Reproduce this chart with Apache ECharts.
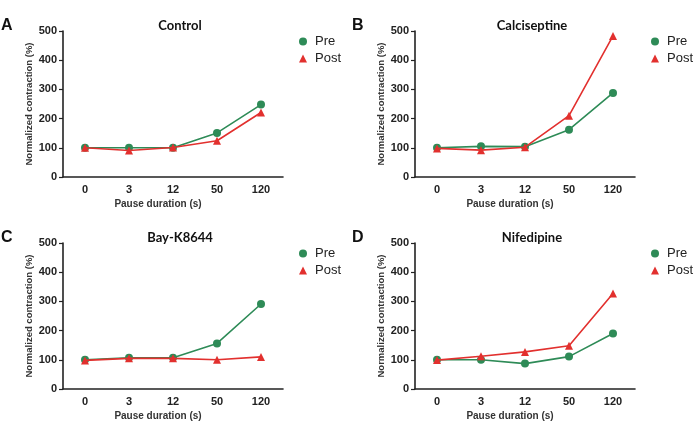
<!DOCTYPE html>
<html>
<head>
<meta charset="utf-8">
<script src="https://cdn.jsdelivr.net/npm/echarts@6/dist/echarts.min.js"></script>
<style>
  html, body { margin: 0; padding: 0; background: #fff; }
  #chart { width: 697px; height: 443px; }
</style>
</head>
<body>
<div id="chart"></div>
<script>
// pause durations (s)
const categories = ['0', '3', '12', '50', '120']
const yTicks = [0, 100, 200, 300, 400, 500]

const panelLetters = ['A', 'B', 'C', 'D']
const panelTitles = ['Control', 'Calciseptine', 'Bay-K8644', 'Nifedipine']

// normalized contraction (%)
const controlPre = [100, 100, 100, 151, 248]
const controlPost = [100, 91, 101, 124, 221]
const calciPre = [100, 105, 104, 162, 288]
const calciPost = [98, 92, 102, 210, 483]
const bayPre = [100, 107, 107, 156, 291]
const bayPost = [98, 105, 105, 100, 110]
const nifePre = [100, 100, 87, 111, 190]
const nifePost = [99, 112, 127, 148, 327]

const preData = [controlPre, calciPre, bayPre, nifePre]
const postData = [controlPost, calciPost, bayPost, nifePost]

const GREEN = '#2e8b57'
const RED = '#e2302e'
const INK = '#222'

// grid boxes: left, top
const boxes = [
  [63, 31],
  [415, 31],
  [63, 243],
  [415, 243]
]
const W = 220
const H = 146

const grids = []
const xAxes = []
const yAxes = []
const series = []
const legends = []
const graphics = []

boxes.forEach((b, i) => {
  grids.push({ left: b[0], top: b[1], width: W, height: H })
  xAxes.push({
    gridIndex: i,
    type: 'category',
    data: categories,
    boundaryGap: true,
    name: 'Pause duration (s)',
    nameLocation: 'middle',
    nameGap: 22,
    nameTextStyle: {
      fontFamily: 'Liberation Sans',
      fontWeight: 'bold',
      fontSize: 10,
      color: '#333',
      padding: [0, 30, 0, 0]
    },
    axisLine: { lineStyle: { color: INK, width: 1.6 } },
    axisTick: { alignWithLabel: true, length: 4, lineStyle: { color: INK, width: 1.2 } },
    axisLabel: {
      fontFamily: 'Liberation Sans',
      fontWeight: 'bold',
      fontSize: 11,
      color: INK,
      margin: 7
    },
    splitLine: { show: false }
  })
  yAxes.push({
    gridIndex: i,
    type: 'value',
    min: yTicks[0],
    max: yTicks[yTicks.length - 1],
    interval: 100,
    name: 'Normalized contraction (%)',
    nameLocation: 'middle',
    nameGap: 23,
    nameTextStyle: {
      fontFamily: 'Liberation Sans',
      fontWeight: 'bold',
      fontSize: 9.5,
      color: '#333'
    },
    axisLine: { show: true, lineStyle: { color: INK, width: 1.6 } },
    axisTick: { show: true, length: 4, lineStyle: { color: INK, width: 1.2 } },
    axisLabel: {
      fontFamily: 'Liberation Sans',
      fontWeight: 'bold',
      fontSize: 11,
      color: INK,
      margin: 6
    },
    splitLine: { show: false }
  })
  series.push({
    name: 'Pre',
    type: 'line',
    xAxisIndex: i,
    yAxisIndex: i,
    data: preData[i],
    symbol: 'circle',
    symbolSize: 8,
    color: GREEN,
    lineStyle: { color: GREEN, width: 1.6 },
    itemStyle: { color: GREEN },
    z: 2
  })
  series.push({
    name: 'Post',
    type: 'line',
    xAxisIndex: i,
    yAxisIndex: i,
    data: postData[i],
    symbol: 'triangle',
    symbolSize: 8,
    color: RED,
    lineStyle: { color: RED, width: 1.6 },
    itemStyle: { color: RED },
    z: 3
  })
  legends.push({
    orient: 'vertical',
    left: b[0] + W + 11,
    top: b[1] - 1,
    itemWidth: 8,
    itemHeight: 8,
    itemGap: 4,
    textStyle: {
      fontFamily: 'Liberation Sans',
      fontSize: 13,
      color: INK,
      padding: [0, 0, 0, 3]
    },
    data: [
      { name: 'Pre', icon: 'circle', itemStyle: { color: GREEN } },
      { name: 'Post', icon: 'triangle', itemStyle: { color: RED } }
    ]
  })
  // panel title
  graphics.push({
    type: 'text',
    x: b[0] + W / 2 + 7,
    y: b[1] - 12,
    style: {
      text: panelTitles[i],
      font: 'bold 13px Lato',
      fill: '#111',
      align: 'center'
    }
  })
  // panel letter
  graphics.push({
    type: 'text',
    x: b[0] - 62 + (i % 2 === 1 ? -1 : 0),
    y: b[1] - 13,
    style: {
      text: panelLetters[i],
      font: 'bold 16px Liberation Sans',
      fill: '#111'
    }
  })
})

const chart = echarts.init(document.getElementById('chart'), null, { renderer: 'canvas' })
chart.setOption({
  backgroundColor: '#fff',
  animation: false,
  grid: grids,
  xAxis: xAxes,
  yAxis: yAxes,
  legend: legends,
  series: series,
  graphic: graphics
})
</script>
</body>
</html>
